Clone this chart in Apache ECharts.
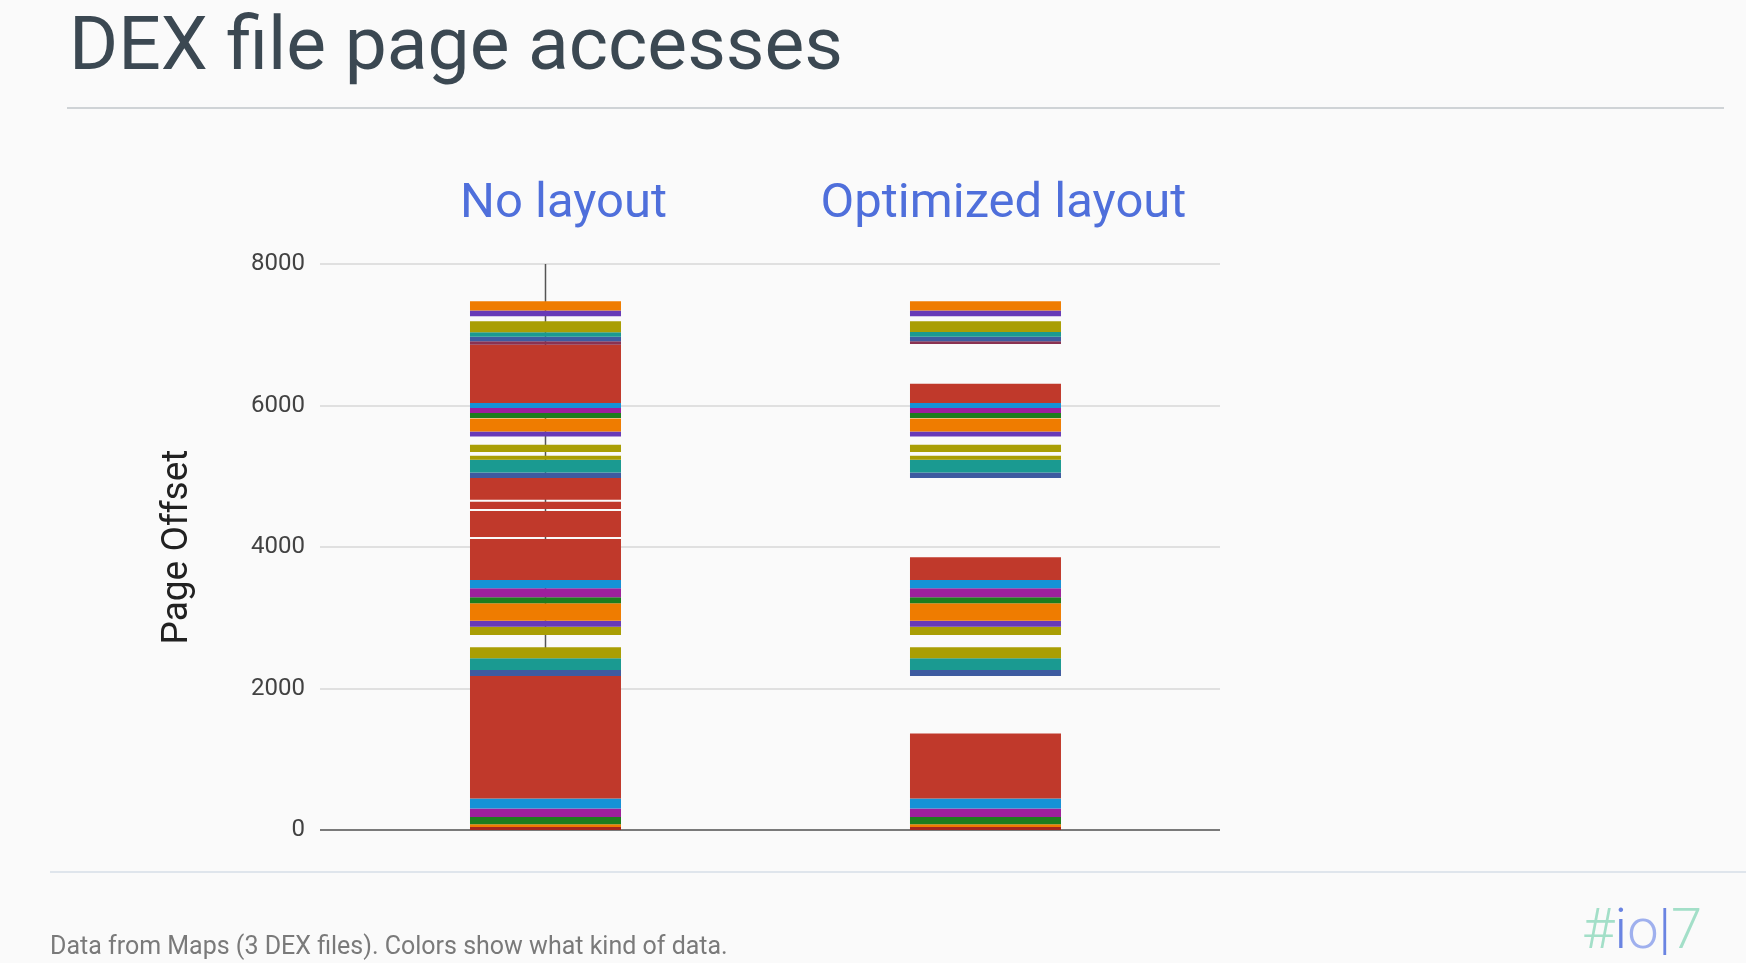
<!DOCTYPE html>
<html>
<head>
<meta charset="utf-8">
<title>DEX file page accesses</title>
<script src="https://cdn.jsdelivr.net/npm/echarts@6/dist/echarts.min.js"></script>
<style>
    html, body {margin: 0; padding: 0; background: #fafafa;}
    #chart {width: 1746px; height: 963px;}
</style>
</head>
<body>
<div id="chart"></div>
<script>
// bar names and where they sit on the x axis
var layouts = ['No layout', 'Optimized layout'];
var layoutPos = [0, 1];

// page offset segments [start, end, kind] for each bar
var noLayoutSegs = [
    [0, 42, 'k10'], [42, 81, 'k1'], [81, 184, 'k9'], [184, 303, 'k8'], [303, 444, 'k7'],
    [444, 2175, 'k0'], [2175, 2260, 'k5'], [2260, 2426, 'k4'], [2426, 2582, 'k3'],
    [2756, 2873, 'k3'], [2873, 2958, 'k2'], [2958, 3204, 'k1'], [3204, 3289, 'k9'],
    [3289, 3417, 'k8'], [3417, 3534, 'k7'], [3534, 4113, 'k0'], [4141, 4510, 'k0'],
    [4538, 4640, 'k0'], [4668, 4974, 'k0'], [4974, 5053, 'k5'], [5053, 5233, 'k4'],
    [5233, 5290, 'k3'], [5342, 5445, 'k3'], [5563, 5633, 'k2'], [5633, 5815, 'k1'],
    [5823, 5894, 'k9'], [5894, 5965, 'k8'], [5965, 6035, 'k7'], [6035, 6860, 'k0'],
    [6860, 6907, 'k6'], [6907, 6970, 'k5'], [6970, 7035, 'k4'], [7035, 7190, 'k3'],
    [7261, 7342, 'k2'], [7342, 7473, 'k1']
];
var optimizedSegs = [
    [0, 42, 'k10'], [42, 81, 'k1'], [81, 184, 'k9'], [184, 303, 'k8'], [303, 444, 'k7'],
    [444, 1364, 'k0'], [2175, 2260, 'k5'], [2260, 2426, 'k4'], [2426, 2582, 'k3'],
    [2756, 2873, 'k3'], [2873, 2958, 'k2'], [2958, 3204, 'k1'], [3204, 3289, 'k9'],
    [3289, 3417, 'k8'], [3417, 3534, 'k7'], [3534, 3855, 'k0'], [4974, 5053, 'k5'],
    [5053, 5233, 'k4'], [5233, 5290, 'k3'], [5342, 5445, 'k3'], [5563, 5633, 'k2'],
    [5633, 5815, 'k1'], [5823, 5894, 'k9'], [5894, 5965, 'k8'], [5965, 6035, 'k7'],
    [6035, 6309, 'k0'], [6870, 6907, 'k6'], [6907, 6970, 'k5'], [6970, 7040, 'k4'],
    [7040, 7190, 'k3'], [7261, 7342, 'k2'], [7342, 7473, 'k1']
];

// the thin whisker behind the first bar
var whisker = [8000, 2500];

var yTicks = [0, 2000, 4000, 6000, 8000];

var kindColors = {
    k0: '#c0392b', k1: '#ef7c00', k2: '#673ab7', k3: '#a99e04', k4: '#1a9a91',
    k5: '#3e5ba0', k6: '#8a3252', k7: '#1592d6', k8: '#9e1f9c', k9: '#1e7d1e',
    k10: '#a3271d'
};

var chart = echarts.init(document.getElementById('chart'));

var segData = [];
[noLayoutSegs, optimizedSegs].forEach(function (segs, i) {
    segs.forEach(function (s) {
        segData.push({value: [layoutPos[i], s[0], s[1]], kind: s[2]});
    });
});

var barPx = 151;

var option = {
    backgroundColor: '#fafafa',
    animation: false,
    title: {
        text: 'DEX file page accesses',
        left: 64,
        top: 8,
        textStyle: {
            fontFamily: 'Roboto',
            fontSize: 75,
            fontWeight: 'normal',
            color: '#3b4852'
        }
    },
    grid: {left: 320, right: 526, top: 264, bottom: 133},
    xAxis: {
        type: 'value',
        position: 'top',
        min: -0.5125,
        max: 1.533,
        splitLine: {show: false},
        axisLine: {show: false},
        axisTick: {show: false},
        axisLabel: {
            customValues: layoutPos,
            formatter: function (v) {
                return layouts[layoutPos.indexOf(v)];
            },
            margin: 35,
            padding: [0, 0, 0, 36],
            fontFamily: 'Roboto',
            fontSize: 49,
            color: '#4f6fdb'
        }
    },
    yAxis: {
        type: 'value',
        min: 0,
        max: 8000,
        interval: 2000,
        name: 'Page Offset',
        nameLocation: 'middle',
        nameGap: 124,
        nameTextStyle: {fontFamily: 'Roboto', fontSize: 37, color: '#212121'},
        axisLine: {show: false},
        axisTick: {show: false},
        axisLabel: {
            margin: 15,
            fontFamily: 'Roboto',
            fontSize: 24,
            color: '#424242',
            formatter: function (v) {
                return yTicks.indexOf(v) >= 0 ? String(v) : '';
            }
        },
        splitLine: {
            lineStyle: {color: ['#7a7a7a', '#e0e0e0', '#e0e0e0', '#e0e0e0', '#e0e0e0'], width: 2}
        }
    },
    series: [{
        type: 'line',
        z: 1,
        symbol: 'none',
        silent: true,
        lineStyle: {color: '#555', width: 1.5},
        data: [[layoutPos[0], whisker[0]], [layoutPos[0], whisker[1]]]
    }, {
        type: 'custom',
        z: 2,
        encode: {x: 0, y: [1, 2]},
        renderItem: function (params, api) {
            var item = segData[params.dataIndex];
            var top = api.coord([api.value(0), api.value(2)]);
            var bottom = api.coord([api.value(0), api.value(1)]);
            return {
                type: 'rect',
                shape: {x: top[0] - barPx / 2, y: top[1], width: barPx, height: bottom[1] - top[1]},
                style: {fill: kindColors[item.kind]}
            };
        },
        data: segData
    }],
    graphic: [{
        type: 'line',
        shape: {x1: 67, y1: 108, x2: 1724, y2: 108},
        style: {stroke: '#cfd3d6', lineWidth: 2}
    }, {
        type: 'line',
        shape: {x1: 50, y1: 872, x2: 1746, y2: 872},
        style: {stroke: '#dfe5ec', lineWidth: 2}
    }, {
        type: 'text',
        left: 50,
        top: 935,
        style: {
            text: 'Data from Maps (3 DEX files). Colors show what kind of data.',
            fontFamily: 'Roboto',
            fontSize: 25,
            fill: '#7a7a7a'
        }
    }, {
        type: 'text',
        left: 1582,
        top: 906,
        style: {
            text: '{a|#}{b|i}{c|o}{b||}{a|7}',
            rich: {
                a: {fontFamily: 'Roboto', fontSize: 56, fontWeight: 300, fill: '#a3dfc8'},
                b: {fontFamily: 'Roboto', fontSize: 56, fontWeight: 300, fill: '#6a84e2'},
                c: {fontFamily: 'Roboto', fontSize: 56, fontWeight: 300, fill: '#9fb0ee'}
            }
        }
    }]
};

chart.setOption(option);
</script>
</body>
</html>
